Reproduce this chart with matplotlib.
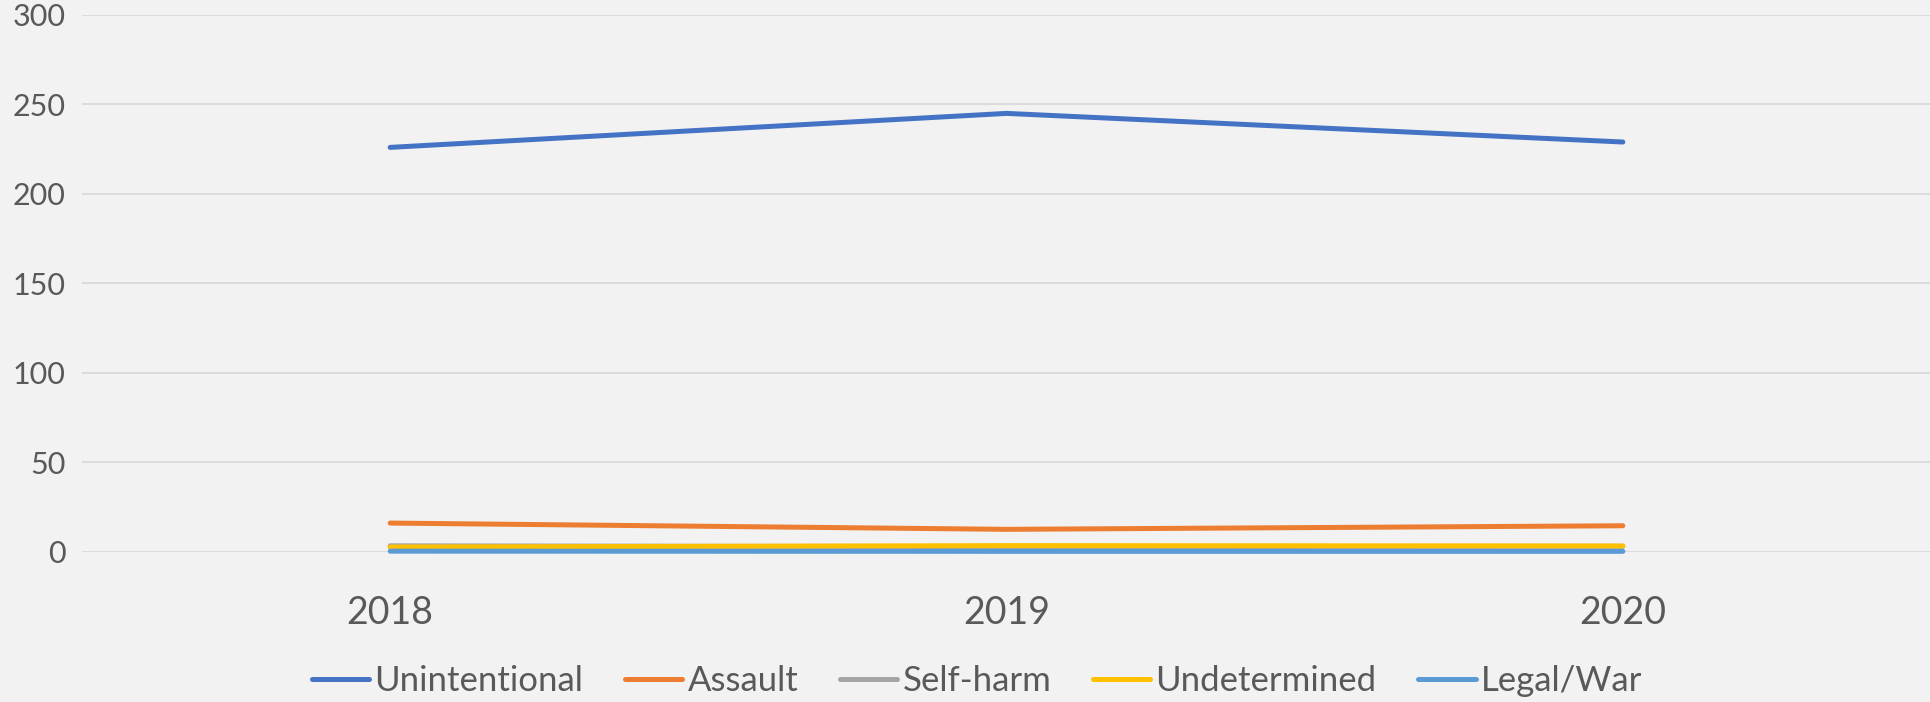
# recreate the injury line chart (Excel style)
import matplotlib.pyplot as plt
import numpy as np

# data
years = ["2018", "2019", "2020"]
unintentional = [226, 245, 229]
assault = [16, 12.5, 14.5]
self_harm = [3.3, 2.8, 3.0]
undetermined = [2.6, 3.4, 3.2]
legal_war = [0.3, 0.2, 0.2]

series = [("Unintentional", unintentional, "#4472C4"),
	("Assault", assault, "#ED7D31"),
	("Self-harm", self_harm, "#A5A5A5"),
	("Undetermined", undetermined, "#FFC000"),
	("Legal/War", legal_war, "#5B9BD5")]

plt.rcParams["font.family"] = ["Lato", "DejaVu Sans"]
bg = "#F2F2F2"
txt = "#595959"

fig = plt.figure(figsize=(19.31, 7.02), dpi=100, facecolor=bg)
ax = fig.add_axes([82 / 1931, 150.3 / 702, 1 - 82 / 1931, 536.7 / 702])
ax.set_facecolor(bg)

x = np.arange(len(years))
for name, vals, color in series:
	ax.plot(x, vals, color=color, lw=3.6, label=name,
		solid_capstyle="round", clip_on=False, zorder=3)

# axes and grid
ax.set_xlim(-0.5, len(years) - 0.5)
ax.set_ylim(0, 300)
ax.set_yticks(np.arange(0, 301, 50))
ax.set_xticks(x)
ax.set_xticklabels(years)
ax.yaxis.grid(True, color="#D9D9D9", lw=1.3)
ax.set_axisbelow(True)
for s in ax.spines.values():
	s.set_visible(False)
ax.tick_params(axis="y", length=0, pad=12, labelsize=22, labelcolor=txt)
ax.tick_params(axis="x", length=0, pad=31, labelsize=27, labelcolor=txt)

# legend at the bottom
leg = fig.legend(loc="center", bbox_to_anchor=(0.506, 0.03), ncol=5,
	frameon=False, fontsize=25, handlelength=1.65, handletextpad=0.15,
	columnspacing=1.2, labelcolor=txt)

fig.savefig("out.png", dpi=100, facecolor=bg)
